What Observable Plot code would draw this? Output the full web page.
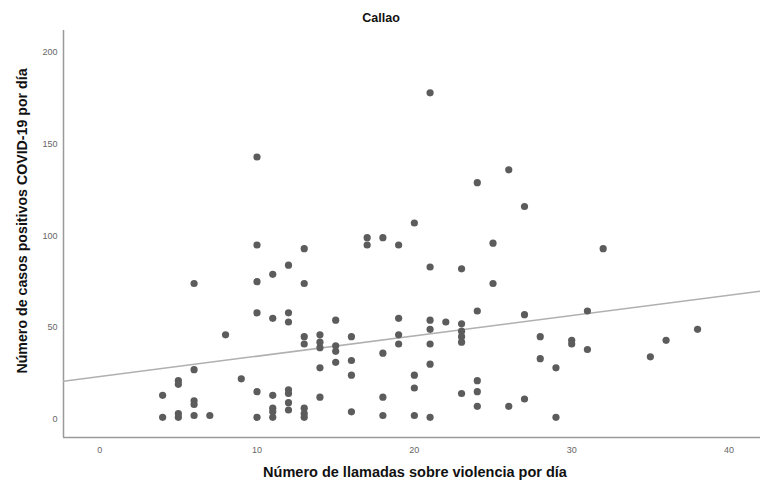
<!DOCTYPE html>
<html>
<head>
<meta charset="utf-8">
<script src="https://cdn.jsdelivr.net/npm/d3@7"></script>
<script src="https://cdn.jsdelivr.net/npm/@observablehq/plot@0.6"></script>
<style>
  html, body { margin: 0; padding: 0; background: #fff; }
  #chart { width: 760px; height: 491px; }
</style>
</head>
<body>
<div id="chart"></div>
<script>
const title = "Callao";
const xLabel = "Número de llamadas sobre violencia por día";
const yLabel = "Número de casos positivos COVID-19 por día";
const xTicks = [0, 10, 20, 30, 40];
const yTicks = [0, 50, 100, 150, 200];

// calls per day (x) and positive cases per day (y), one entry per day
const calls = [
  4, 4,
  5, 5, 5, 5,
  6, 6, 6, 6, 6,
  7,
  8,
  9,
  10, 10, 10, 10, 10, 10,
  11, 11, 11, 11, 11, 11,
  12, 12, 12, 12, 12, 12, 12,
  13, 13, 13, 13, 13, 13, 13,
  14, 14, 14, 14, 14,
  15, 15, 15, 15,
  16, 16, 16, 16,
  17, 17,
  18, 18, 18, 18,
  19, 19, 19, 19,
  20, 20, 20, 20,
  21, 21, 21, 21, 21, 21, 21,
  22,
  23, 23, 23, 23, 23, 23,
  24, 24, 24, 24, 24,
  25, 25,
  26, 26,
  27, 27, 27,
  28, 28,
  29, 29,
  30, 30,
  31, 31,
  32,
  35,
  36,
  38
];
const cases = [
  13, 1,
  21, 19, 3, 1,
  74, 27, 10, 8, 2,
  2,
  46,
  22,
  143, 95, 75, 58, 15, 1,
  79, 55, 13, 6, 4, 1,
  84, 58, 53, 16, 14, 9, 5,
  93, 74, 45, 41, 6, 3, 1,
  46, 42, 39, 28, 12,
  54, 40, 37, 31,
  45, 32, 24, 4,
  99, 95,
  99, 36, 12, 2,
  95, 55, 46, 41,
  107, 24, 17, 2,
  178, 83, 54, 49, 41, 30, 1,
  53,
  82, 52, 48, 45, 42, 14,
  129, 59, 21, 15, 7,
  96, 74,
  136, 7,
  116, 57, 11,
  45, 33,
  28, 1,
  43, 41,
  59, 38,
  93,
  34,
  43,
  49
];

const xDomain = [-2.3, 42];
const yDomain = [-10, 212];

const data = calls.map((c, i) => ({x: c, y: cases[i]}));

// least-squares fit line (drawn across the whole frame)
const mx = d3.mean(data, d => d.x), my = d3.mean(data, d => d.y);
const slope = d3.sum(data, d => (d.x - mx) * (d.y - my)) / d3.sum(data, d => (d.x - mx) ** 2);
const intercept = my - slope * mx;
const fit = xDomain.map(x => ({x, y: intercept + slope * x}));

const chart = Plot.plot({
  width: 760,
  height: 491,
  marginLeft: 63,
  marginRight: 0,
  marginTop: 30,
  marginBottom: 54,
  style: {fontFamily: "'Liberation Sans', Arial, sans-serif", background: "#fff"},
  x: {domain: xDomain, ticks: xTicks, label: null},
  y: {domain: yDomain, ticks: yTicks, label: null},
  marks: [
    Plot.axisX({ticks: xTicks, tickSize: 0, tickPadding: 9, fontSize: 9, fill: "#666", label: null}),
    Plot.axisY({ticks: yTicks, tickSize: 0, tickPadding: 6, fontSize: 9, fill: "#666", label: null}),
    Plot.ruleX([xDomain[0]], {stroke: "#9a9a9a", strokeWidth: 1.5}),
    Plot.ruleY([yDomain[0]], {stroke: "#9a9a9a", strokeWidth: 1.5}),
    Plot.line(fit, {x: "x", y: "y", stroke: "#b0b0b0", strokeWidth: 1.6}),
    Plot.dot(data, {x: "x", y: "y", r: 3.6, fill: "#5c5c5c", stroke: "none"}),
    Plot.text([title], {frameAnchor: "top", dx: -31, dy: -17, fontSize: 12.5, fontWeight: "bold", fill: "#111"}),
    Plot.text([xLabel], {frameAnchor: "bottom", dx: 3, dy: 39, fontSize: 14.5, fontWeight: "bold", fill: "#111"}),
    Plot.text([yLabel], {frameAnchor: "left", textAnchor: "middle", dx: -41, dy: -13, rotate: -90, fontSize: 14.2, fontWeight: "bold", fill: "#111"})
  ]
});
document.getElementById("chart").appendChild(chart);
</script>
</body>
</html>
